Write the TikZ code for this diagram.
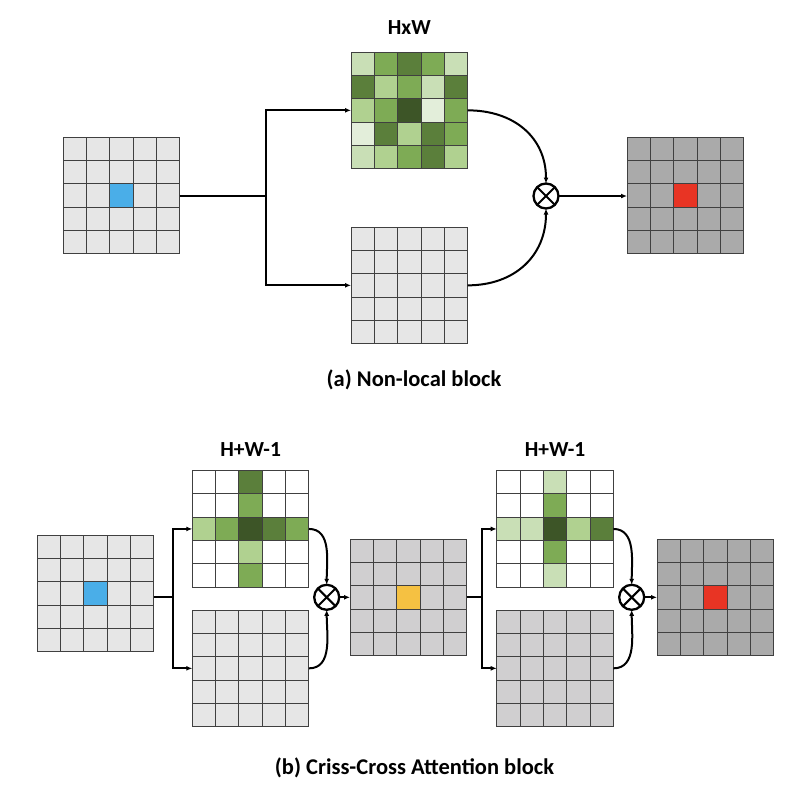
\documentclass[tikz,border=0pt]{standalone}
\usepackage{fontspec}
\setmainfont{Carlito}
\usetikzlibrary{calc,arrows.meta}
\definecolor{lineC}{HTML}{404040}
\definecolor{lgray}{HTML}{E6E6E6}
\definecolor{mgray}{HTML}{D0CFD0}
\definecolor{dgray}{HTML}{AAAAAA}
\definecolor{qblue}{HTML}{4AAEE8}
\definecolor{qred}{HTML}{E83424}
\definecolor{qyellow}{HTML}{F5C142}
\definecolor{gA}{HTML}{E3EEDA}
\definecolor{gB}{HTML}{C9DFB6}
\definecolor{gC}{HTML}{B0D190}
\definecolor{gD}{HTML}{7EAB55}
\definecolor{gE}{HTML}{5B7F3B}
\definecolor{gF}{HTML}{3D5527}

\def\cellsz{23.333}
% a 5x5 feature map: name, top left corner, background
\newcommand\fmap[3]{\node[fmap,fill=#3] (#1) at (#2) {};}
\newcommand\cell[4]{\fill[#4] ($(#1.north west)+(#2*\cellsz,#3*\cellsz)$) rectangle +(\cellsz,\cellsz);}
\newcommand\fmaplines[1]{%
  \foreach \k in {1,...,4}{
    \draw[gridln] ($(#1.north west)+(\k*\cellsz,0)$) -- +(0,5*\cellsz);
    \draw[gridln] ($(#1.north west)+(0,\k*\cellsz)$) -- +(5*\cellsz,0);}
  \draw[gridln] (#1.north west) rectangle (#1.south east);}
\newcommand\prodnode[2]{%
  \node[prod] (#1) at (#2) {};
  \draw[prodx] (#1.north west) -- (#1.south east) (#1.north east) -- (#1.south west);}

\begin{document}
\begin{tikzpicture}[x=1pt,y=-1pt,
  fmap/.style={inner sep=0pt,outer sep=0pt,minimum size=116.67pt,anchor=north west},
  gridln/.style={draw=lineC,line width=1pt},
  wire/.style={line width=2pt},
  arr/.style={wire,-{Latex[length=6pt,width=5pt]}},
  prod/.style={circle,draw,line width=2.3pt,minimum size=25pt,inner sep=0pt,outer sep=0pt},
  prodx/.style={line width=2.1pt},
  lbl/.style={font=\bfseries\fontsize{21.5}{25}\selectfont,anchor=base,inner sep=0pt},
  captxt/.style={font=\bfseries\fontsize{22.5}{27}\selectfont,anchor=base,inner sep=0pt}]
\useasboundingbox (0,0) rectangle (808,798);

% (a) non-local block
\fmap{inA}{63,137}{lgray}
\cell{inA}{2}{2}{qblue}
\fmaplines{inA}
\fmap{attA}{351,52}{white}
\foreach \r/\row in {0/{gB,gD,gE,gD,gB},1/{gE,gC,gD,gB,gE},2/{gC,gD,gF,gA,gD},3/{gA,gE,gC,gE,gD},4/{gB,gC,gD,gE,gC}}
  {\foreach \g [count=\c from 0] in \row {\cell{attA}{\c}{\r}{\g}}}
\fmaplines{attA}
\fmap{valA}{351,227}{lgray}
\fmaplines{valA}
\fmap{outA}{627,137}{dgray}
\cell{outA}{2}{2}{qred}
\fmaplines{outA}
\prodnode{otA}{546,196}
\node[lbl] (hwA) at ($(attA.north)+(0,-17.7)$) {HxW};

\coordinate (splitA) at (266,196);
\draw[wire] (inA.east |- splitA) -- (splitA);
\draw[arr] (splitA) |- (attA.west);
\draw[arr] (splitA) |- (valA.west);
\draw[arr] (attA.east) to[out=0,in=90,looseness=1.1] (otA.north);
\draw[arr] (valA.east) to[out=0,in=-90,looseness=1.1] (otA.south);
\draw[arr] (otA.east) -- (outA.west |- otA);
\node[captxt] (capA) at (414,386.7) {(a) Non-local block};

% (b) criss-cross attention block
\fmap{inB}{37.3,535}{lgray}
\cell{inB}{2}{2}{qblue}
\fmaplines{inB}
\fmap{attB1}{192.3,470.6}{white}
\foreach \r/\g in {0/gE,1/gD,2/gF,3/gC,4/gD} {\cell{attB1}{2}{\r}{\g}}
\foreach \c/\g in {0/gC,1/gD,3/gE,4/gD} {\cell{attB1}{\c}{2}{\g}}
\fmaplines{attB1}
\fmap{valB1}{192.3,610}{lgray}
\fmaplines{valB1}
\fmap{midB}{350,539}{mgray}
\cell{midB}{2}{2}{qyellow}
\fmaplines{midB}
\fmap{attB2}{496.7,470.6}{white}
\foreach \r/\g in {0/gB,1/gD,2/gF,3/gD,4/gB} {\cell{attB2}{2}{\r}{\g}}
\foreach \c/\g in {0/gB,1/gB,3/gC,4/gE} {\cell{attB2}{\c}{2}{\g}}
\fmaplines{attB2}
\fmap{valB2}{496.7,610}{mgray}
\fmaplines{valB2}
\fmap{outB}{657,539}{dgray}
\cell{outB}{2}{2}{qred}
\fmaplines{outB}
\prodnode{otB1}{326.7,597.3}
\prodnode{otB2}{631.7,597.3}
\node[lbl] (hwB1) at ($(attB1.north)+(0,-14.6)$) {H+W-1};
\node[lbl] (hwB2) at ($(attB2.north)+(0,-14.6)$) {H+W-1};

\coordinate (splitB1) at (173.3,597.3);
\coordinate (splitB2) at (481.7,597.3);
\draw[wire] (inB.east |- splitB1) -- (splitB1);
\draw[arr] (splitB1) |- (attB1.west);
\draw[arr] (splitB1) |- (valB1.west);
\draw[arr] (attB1.east) to[out=0,in=90] (otB1.north);
\draw[arr] (valB1.east) to[out=0,in=-90] (otB1.south);
\draw[arr] (otB1.east) -- (midB.west |- otB1);
\draw[wire] (midB.east |- splitB2) -- (splitB2);
\draw[arr] (splitB2) |- (attB2.west);
\draw[arr] (splitB2) |- (valB2.west);
\draw[arr] (attB2.east) to[out=0,in=90] (otB2.north);
\draw[arr] (valB2.east) to[out=0,in=-90] (otB2.south);
\draw[arr] (otB2.east) -- (outB.west |- otB2);
\node[captxt] (capB) at (414.5,774.3) {(b) Criss-Cross Attention block};
\end{tikzpicture}
\end{document}
